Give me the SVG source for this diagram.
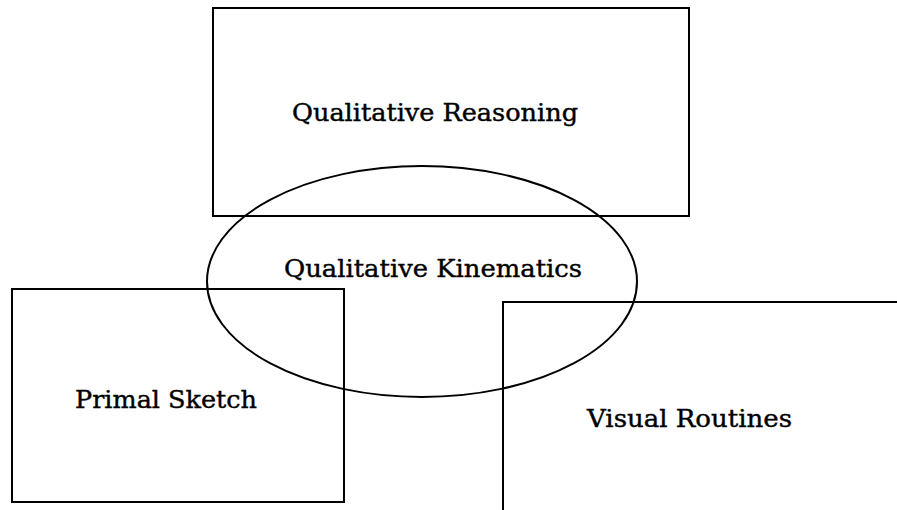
<svg xmlns="http://www.w3.org/2000/svg" width="897" height="510" viewBox="0 0 897 510">
<style>
.box{fill:none;stroke:#000;stroke-width:2}
.lbl{font-family:"DejaVu Serif","Liberation Serif",serif;font-size:24px;fill:#000;stroke:#000;stroke-width:0.4}
</style>
<rect width="897" height="510" fill="#fff"/>
<g id="qualitative-reasoning">
<rect class="box" x="213" y="8" width="476" height="208"/>
<text class="lbl" x="292" y="121" textLength="286" lengthAdjust="spacingAndGlyphs">Qualitative Reasoning</text>
</g>
<g id="primal-sketch">
<rect class="box" x="12" y="289" width="332" height="213"/>
<text class="lbl" x="75" y="408" textLength="182" lengthAdjust="spacingAndGlyphs">Primal Sketch</text>
</g>
<g id="visual-routines">
<path class="box" d="M503,515 V302 H900"/>
<text class="lbl" x="587" y="427" textLength="205" lengthAdjust="spacingAndGlyphs">Visual Routines</text>
</g>
<g id="qualitative-kinematics">
<ellipse class="box" cx="422" cy="281.5" rx="215" ry="115.5"/>
<text class="lbl" x="284" y="277" textLength="298" lengthAdjust="spacingAndGlyphs">Qualitative Kinematics</text>
</g>
<g id="connectors"></g>
</svg>
